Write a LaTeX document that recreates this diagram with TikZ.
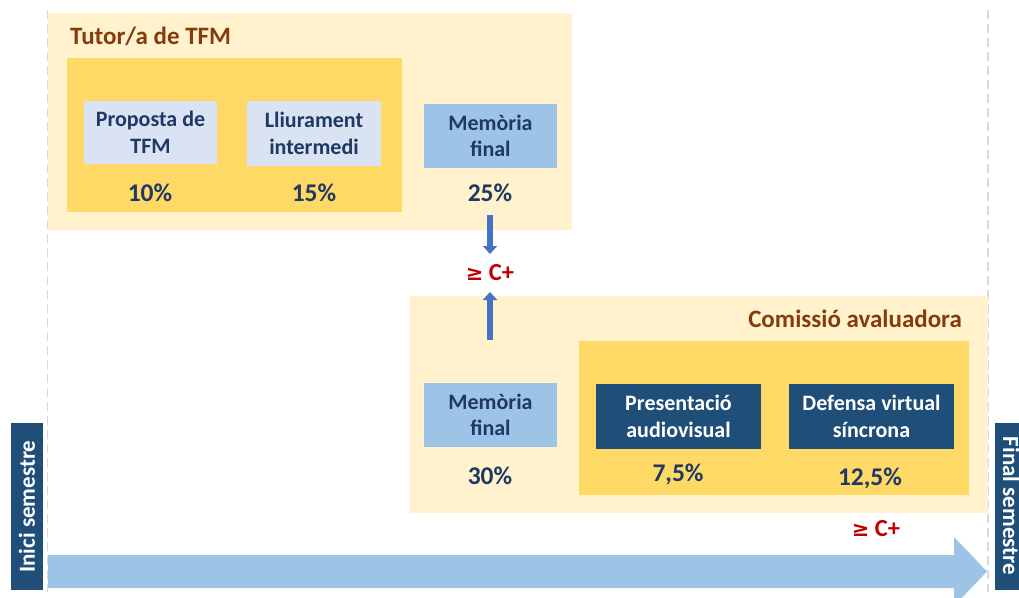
\documentclass[tikz,border=0pt]{standalone}
\usepackage{fontspec}
\setmainfont{Carlito}
\newfontfamily\symfont{DejaVu Sans}
\usetikzlibrary{arrows.meta}
\definecolor{cream}{HTML}{FFF2CC}
\definecolor{gold}{HTML}{FFD966}
\definecolor{paleblue}{HTML}{DAE3F3}
\definecolor{midblue}{HTML}{9DC3E6}
\definecolor{navybox}{HTML}{1F4E79}
\definecolor{navytext}{HTML}{1F3864}
\definecolor{brown}{HTML}{843C0C}
\definecolor{darkred}{HTML}{C00000}
\definecolor{arrowblue}{HTML}{4472C4}
\definecolor{guide}{HTML}{D9D9D9}
\tikzset{
  area/.style={fill=#1, draw=none, inner sep=0pt},
  taskbox/.style={fill=#1, draw=none, inner sep=0pt, text=navytext, align=center},
  darkbox/.style={fill=navybox, draw=none, inner sep=0pt, text=white, align=center, minimum width=165, minimum height=65},
  pct/.style={text=navytext, inner sep=0pt, font=\fontsize{25.5}{30}\selectfont\bfseries},
  title/.style={text=brown, inner sep=0pt, font=\fontsize{25}{30}\selectfont\bfseries},
  grade/.style={text=darkred, inner sep=0pt, font=\fontsize{24.5}{30}\selectfont\bfseries},
  vlabel/.style={fill=navybox, text=white, inner sep=0pt, minimum width=167, minimum height=32, font=\fontsize{23}{28}\selectfont\bfseries},
  guideline/.style={draw=guide, line width=1.5pt, dash pattern=on 9pt off 5pt},
  uparrow/.style={draw=arrowblue, line width=6.5pt, -{Triangle[width=14pt,length=8pt]}}
}
\begin{document}
\begin{tikzpicture}[x=1pt,y=-1pt,font=\fontsize{22}{26.5}\selectfont\bfseries]
\useasboundingbox (0,0) rectangle (1019,597);
% guide lines
\draw[guideline] (47.5,10) -- (47.5,592);
\draw[guideline] (988,10) -- (988,592);
% Tutor area
\node[area=cream, minimum width=524, minimum height=217] (tutor) at (310,121.5) {};
\node[area=gold, minimum width=335, minimum height=154] (tutorin) at (234.5,135) {};
\node[title, anchor=base west] (tutortitle) at (70,44) {Tutor/a de TFM};
\node[taskbox=paleblue, minimum width=133, minimum height=63] (prop) at (150.5,132.5) {Proposta de\\TFM};
\node[taskbox=paleblue, minimum width=134, minimum height=65] (lliu) at (314,133.5) {Lliurament\\intermedi};
\node[taskbox=midblue, minimum width=133, minimum height=64] (mem1) at (490.5,136) {Memòria\\final};
\node[pct] (p10) at (150,193) {10\%};
\node[pct] (p15) at (314,193) {15\%};
\node[pct] (p25) at (490,193) {25\%};
% Commission area
\node[area=cream, minimum width=578, minimum height=217] (com) at (699,404.5) {};
\node[area=gold, minimum width=390, minimum height=154] (comin) at (774,418) {};
\node[title, anchor=base east] (comtitle) at (962,327) {Comissió avaluadora};
\node[taskbox=midblue, minimum width=133, minimum height=64] (mem2) at (490.5,415) {Memòria\\final};
\node[darkbox] (pres) at (678.5,416.5) {Presentació\\audiovisual};
\node[darkbox] (def) at (871.5,416.5) {Defensa virtual\\síncrona};
\node[pct] (p30) at (490,476) {30\%};
\node[pct] (p75) at (678,474) {7,5\%};
\node[pct] (p125) at (870,478) {12,5\%};
% grade thresholds
\node[grade] (g1) at (490,273) {{\symfont\fontsize{21}{26}\selectfont\bfseries ≥} C+};
\node[grade] (g2) at (876,529) {{\symfont\fontsize{21}{26}\selectfont\bfseries ≥} C+};
\coordinate (d1s) at (490,215);
\coordinate (d1e) at (490,254);
\coordinate (u1s) at (490,340);
\coordinate (u1e) at (490,292);
\draw[uparrow] (d1s) -- (d1e);
\draw[uparrow] (u1s) -- (u1e);
% timeline arrow
\fill[midblue] (48,555) -- (954,555) -- (954,537) -- (987,571.5) -- (954,606) -- (954,588) -- (48,588) -- cycle;
% semester labels
\node[vlabel, rotate=90] (inici) at (27,506.5) {Inici semestre};
\node[vlabel, rotate=-90] (final) at (1011,506) {Final semestre};
\end{tikzpicture}
\end{document}
